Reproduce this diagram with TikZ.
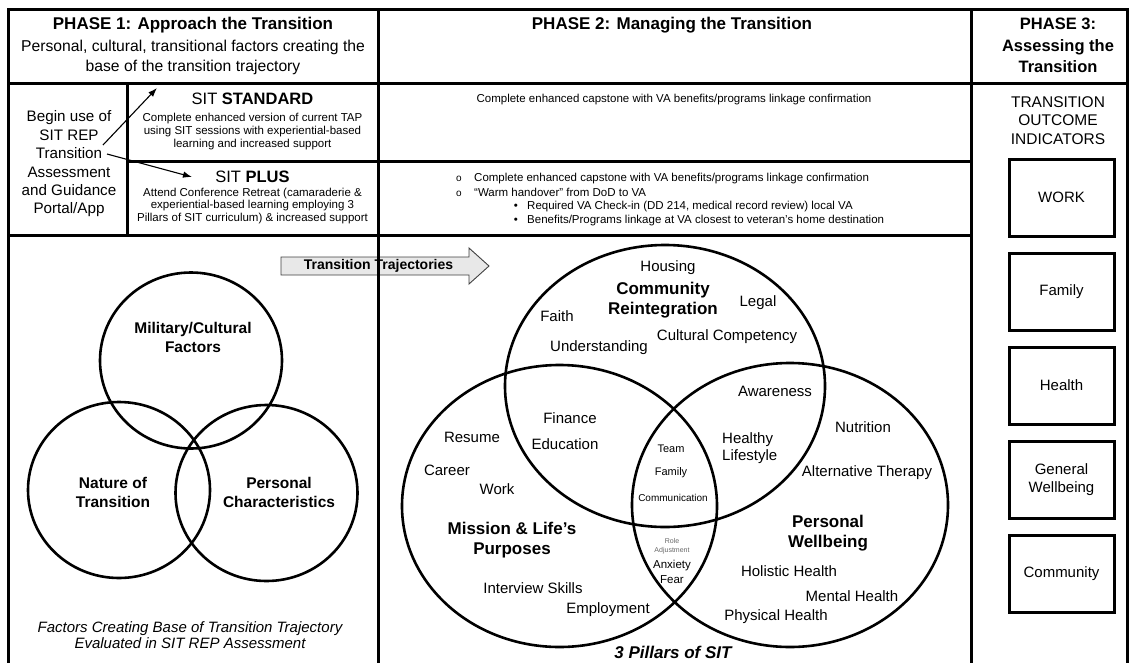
\documentclass[tikz,border=0pt]{standalone}
\usepackage{fontspec}
\setmainfont{Liberation Sans}
\usetikzlibrary{shapes.geometric,arrows.meta}
\newcommand\fsz[2]{\fontsize{#1}{#2}\selectfont}

\begin{document}
\begin{tikzpicture}[x=1pt,y=-1pt,
  rule/.style={line width=3pt},
  ring/.style={draw, ellipse, line width=2.6pt, inner sep=0pt},
  lab/.style={inner sep=0pt, align=center, font=\fsz{15}{18}},
  hd/.style={inner sep=0pt, align=center, font=\bfseries\fsz{17}{21}},
  small/.style={inner sep=0pt, align=center, font=\fsz{11.5}{12.8}},
  pillar/.style={inner sep=0pt, align=center, font=\bfseries\fsz{17}{20}},
  factor/.style={inner sep=0pt, align=center, font=\bfseries\fsz{15.5}{19}},
  conn/.style={line width=1.1pt, -{Latex[length=9pt,width=6.5pt]}},
  outbox/.style={draw, line width=3pt, minimum width=105pt, minimum height=77pt,
    inner sep=0pt, align=center, font=\fsz{15}{18}},
]
\useasboundingbox (0,0) rectangle (1133,662);

% ---------- trajectory arrow (under the column rules) ----------
\draw[fill=gray!18, draw=black!75, line width=0.9pt]
  (281,257) -- (469,257) -- (469,248) -- (489,266) -- (469,284) -- (469,275) -- (281,275) -- cycle;
\node[inner sep=0pt, font=\bfseries\fsz{14}{16}] (traj) at (378.5,266) {Transition Trajectories};

% ---------- table rules ----------
\draw[rule] (8,680) -- (8,9) -- (1127,9) -- (1127,680);
\draw[rule] (8,83) -- (1127,83);
\draw[rule] (378,9) -- (378,680);
\draw[rule] (971,9) -- (971,680);
\draw[rule] (127,83) -- (127,235);
\draw[rule] (127,161) -- (971,161);
\draw[rule] (8,235) -- (971,235);

% ---------- phase 1 ----------
\node[hd] (p1title) at (193,25) {PHASE 1: Approach the Transition};
\node[inner sep=0pt, align=center, font=\fsz{15.7}{19.5}] (p1sub) at (193,57.5)
  {Personal, cultural, transitional factors creating the\\base of the transition trajectory};
\node[inner sep=0pt, align=center, font=\fsz{15.2}{18.4}] (begin) at (69,164)
  {Begin use of\\SIT REP\\Transition\\Assessment\\and Guidance\\Portal/App};
\node[inner sep=0pt, font=\fsz{16.5}{18}] (std) at (252.5,99) {SIT \textbf{STANDARD}};
\node[small] (stddesc) at (252.5,131.5)
  {Complete enhanced version of current TAP\\using SIT sessions with experiential-based\\learning and increased support};
\node[inner sep=0pt, font=\fsz{16.5}{18}] (plus) at (252.5,177) {SIT \textbf{PLUS}};
\node[small] (plusdesc) at (252.5,206)
  {Attend Conference Retreat (camaraderie \&\\experiential-based learning employing 3\\Pillars of SIT curriculum) \& increased support};

\coordinate (b1) at (103,145);
\coordinate (s1) at (157,88);
\coordinate (b2) at (107,154);
\coordinate (s2) at (192,177);
\draw[conn] (b1) -- (s1);
\draw[conn] (b2) -- (s2);

% three factors
\node[ring, minimum width=182pt, minimum height=176pt] (mil) at (191,360.5) {};
\node[ring, minimum width=182pt, minimum height=176pt] (nat) at (119,490) {};
\node[ring, minimum width=182pt, minimum height=176pt] (per) at (266.5,493) {};
\node[factor] (miltxt) at (193,337.5) {Military/Cultural\\Factors};
\node[factor] (nattxt) at (113,492.5) {Nature of\\Transition};
\node[factor] (pertxt) at (279,492.5) {Personal\\Characteristics};
\node[inner sep=0pt, align=center, font=\itshape\fsz{15}{16.7}] (cap1) at (190,635)
  {Factors Creating Base of Transition Trajectory\\Evaluated in SIT REP Assessment};

% ---------- phase 2 ----------
\node[hd] (p2title) at (672,25) {PHASE 2: Managing the Transition};
\node[small] (p2std) at (674,100)
  {Complete enhanced capstone with VA benefits/programs linkage confirmation};
\node[inner sep=0pt, font=\fsz{10}{12}, anchor=base] (o1) at (459,181.5) {o};
\node[small, anchor=base west] (l1) at (474,181.5)
  {Complete enhanced capstone with VA benefits/programs linkage confirmation};
\node[inner sep=0pt, font=\fsz{10}{12}, anchor=base] (o2) at (459,196) {o};
\node[small, anchor=base west] (l2) at (474,196) {“Warm handover” from DoD to VA};
\node[small, anchor=base] (d3) at (516,209.5) {•};
\node[small, anchor=base west] (l3) at (527,209.5)
  {Required VA Check-in (DD 214, medical record review) local VA};
\node[small, anchor=base] (d4) at (516,223) {•};
\node[small, anchor=base west] (l4) at (527,223)
  {Benefits/Programs linkage at VA closest to veteran’s home destination};

% three pillars
\node[ring, minimum width=320pt, minimum height=282pt] (cr) at (665,386) {};
\node[ring, minimum width=315pt, minimum height=282pt] (ml) at (559.5,506) {};
\node[ring, minimum width=316pt, minimum height=284pt] (pw) at (790,505) {};

\node[lab] (housing) at (668,268) {Housing};
\node[pillar] (crtxt) at (663,300.5) {Community\\Reintegration};
\node[lab] (legal) at (758,303) {Legal};
\node[lab] (faith) at (557,316) {Faith};
\node[lab] (underst) at (599,348) {Understanding};
\node[lab] (cultcomp) at (727,337) {Cultural Competency};
\node[lab] (finance) at (570,418) {Finance};
\node[lab] (educ) at (565,444) {Education};
\node[lab] (resume) at (472,437) {Resume};
\node[lab] (career) at (447,470) {Career};
\node[lab] (work) at (497,489) {Work};
\node[pillar] (mltxt) at (512,540) {Mission \& Life’s\\Purposes};
\node[lab] (interview) at (533,588) {Interview Skills};
\node[lab] (employ) at (608,610) {Employment};
\node[lab] (aware) at (775,391) {Awareness};
\node[lab] (nutri) at (863,427) {Nutrition};
\node[lab, align=left, anchor=west, font=\fsz{15}{17}] (healthy) at (722,448.5) {Healthy\\Lifestyle};
\node[lab] (alt) at (867,473) {Alternative Therapy};
\node[inner sep=0pt, font=\fsz{11}{12}] (team) at (671,449) {Team};
\node[inner sep=0pt, font=\fsz{11}{12}] (family) at (671,473) {Family};
\node[inner sep=0pt, font=\fsz{10}{12}] (comm) at (673,498) {Communication};
\node[pillar] (pwtxt) at (828,533) {Personal\\Wellbeing};
\node[inner sep=0pt, align=center, font=\fsz{7}{9}, text=black!60] (role) at (672,546.5) {Role\\Adjustment};
\node[inner sep=0pt, align=center, font=\fsz{11.5}{15}] (anx) at (672,571.5) {Anxiety\\Fear};
\node[lab] (holistic) at (789,571) {Holistic Health};
\node[lab] (mental) at (852,596) {Mental Health};
\node[lab] (physical) at (776,617) {Physical Health};
\node[inner sep=0pt, font=\bfseries\itshape\fsz{17}{20}] (pillars) at (673,652) {3 Pillars of SIT};

% ---------- phase 3 ----------
\node[inner sep=0pt, align=center, font=\bfseries\fsz{16.5}{21.5}] (p3title) at (1058,45.5)
  {PHASE 3:\\Assessing the\\Transition};
\node[inner sep=0pt, align=center, font=\fsz{15.5}{18.5}] (p3sub) at (1058,120.5)
  {TRANSITION\\OUTCOME\\INDICATORS};
\node[outbox] (oWork) at (1061.5,197.5) {WORK};
\node[outbox] (oFamily) at (1061.5,291.5) {Family};
\node[outbox] (oHealth) at (1061.5,385.5) {Health};
\node[outbox] (oWell) at (1061.5,479.5) {General\\Wellbeing};
\node[outbox] (oComm) at (1061.5,573.5) {Community};
\end{tikzpicture}
\end{document}
